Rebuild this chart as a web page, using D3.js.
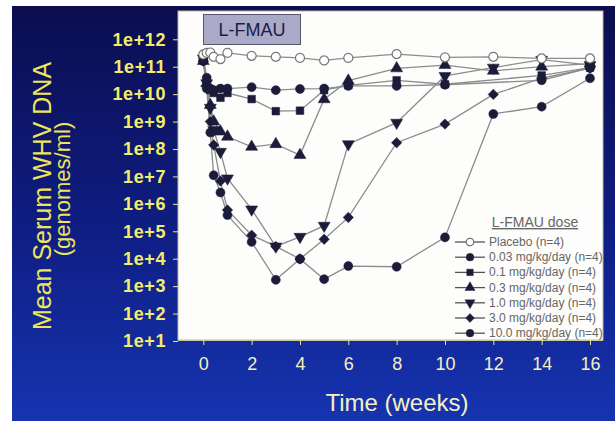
<!DOCTYPE html>
<html lang="en">
<head>
<meta charset="UTF-8">
<title>L-FMAU</title>
<script src="https://cdn.jsdelivr.net/npm/d3@7"></script>
<style>
    body { margin: 0; background: #fff; }
    svg { display: block; font-family: "Liberation Sans", Arial, sans-serif; }
    .ytick text { fill: #f2ec6a; font-size: 18px; font-weight: bold; letter-spacing: 0.6px; }
    .xtick text { fill: #f4f0c0; font-size: 18px; }
    .ytick line, .xtick line { stroke: #e8e4a0; }
    .legtext { fill: #666; font-size: 12px; }
</style>
</head>
<body>
<div id="chart"></div>
<script>
// weeks at which samples were taken
var weeksAll = [0, 0.14, 0.29, 0.43, 0.71, 1, 2, 3, 4, 5, 6, 8, 10, 12, 14, 16];
var weeksNo12 = [0, 0.14, 0.29, 0.43, 0.71, 1, 2, 3, 4, 5, 6, 8, 10, 14, 16];

// mean serum WHV DNA (genomes/ml)
var placebo = [2.8e11, 3.2e11, 3.3e11, 2.3e11, 1.9e11, 3.2e11, 2.5e11, 2.3e11, 2.1e11, 1.7e11, 2.1e11, 2.9e11, 2.2e11, 2.3e11, 2.0e11, 2.0e11];
var dose003 = [2.0e11, 4.0e10, 1.6e10, 1.4e10, 1.6e10, 1.6e10, 1.8e10, 1.4e10, 1.55e10, 1.6e10, 2.0e10, 2.0e10, 2.2e10, 3.2e10, 9.0e10];
var dose01 = [1.8e11, 3.2e10, 1.4e10, 1.1e10, 7.4e9, 1.1e10, 6.6e9, 2.4e9, 2.5e9, 1.4e10, 2.1e10, 3.2e10, 2.3e10, 4.8e10, 9.3e10];
var dose03 = [1.6e11, 2.5e10, 4.0e9, 1.0e9, 4.3e8, 2.8e8, 1.2e8, 1.5e8, 6.0e7, 6.5e9, 3.1e10, 8.7e10, 1.15e11, 7.1e10, 1.0e11, 1.3e11];
var dose10 = [2.0e11, 2.5e10, 3.2e9, 5.0e8, 7.9e7, 8.5e6, 6.3e5, 2.8e4, 6.3e4, 1.6e5, 1.5e8, 9.1e8, 4.6e10, 9.3e10, 1.8e11, 1.15e11];
var dose30 = [1.6e11, 2.0e10, 1.0e9, 1.4e8, 6.8e6, 6.0e5, 7.2e4, 2.8e4, 9.8e3, 5.1e4, 3.2e5, 1.7e8, 8.1e8, 9.8e9, 3.8e10, 8.9e10];
var dose100 = [1.6e11, 1.6e10, 4.0e8, 1.1e7, 2.6e6, 3.9e5, 4.1e4, 1.7e3, 9.8e3, 1.8e3, 5.4e3, 5.1e3, 6.0e4, 1.9e9, 3.5e9, 3.8e10];

var seriesNames = ["Placebo (n=4)", "0.03 mg/kg/day (n=4)", "0.1 mg/kg/day (n=4)", "0.3 mg/kg/day (n=4)",
                   "1.0 mg/kg/day (n=4)", "3.0 mg/kg/day (n=4)", "10.0 mg/kg/day (n=4)"];
var xTicks = [0, 2, 4, 6, 8, 10, 12, 14, 16];
var yTicks = [1e1, 1e2, 1e3, 1e4, 1e5, 1e6, 1e7, 1e8, 1e9, 1e10, 1e11, 1e12];

var series = [
    {name: seriesNames[0], weeks: weeksAll, values: placebo, sym: "circle", open: true},
    {name: seriesNames[1], weeks: weeksNo12, values: dose003, sym: "circle"},
    {name: seriesNames[2], weeks: weeksNo12, values: dose01, sym: "square"},
    {name: seriesNames[3], weeks: weeksAll, values: dose03, sym: "up"},
    {name: seriesNames[4], weeks: weeksAll, values: dose10, sym: "down"},
    {name: seriesNames[5], weeks: weeksAll, values: dose30, sym: "diamond"},
    {name: seriesNames[6], weeks: weeksAll, values: dose100, sym: "circle"}
];

var W = 615, H = 421;
var panel = {left: 178, right: 603, top: 11, bottom: 340};

var svg = d3.select("#chart").append("svg")
    .attr("width", W)
    .attr("height", H);

var grad = svg.append("defs").append("linearGradient")
    .attr("id", "bg")
    .attr("x1", 0).attr("y1", 0).attr("x2", 0).attr("y2", 1);
grad.append("stop").attr("offset", "0%").attr("stop-color", "#0b0d4e");
grad.append("stop").attr("offset", "55%").attr("stop-color", "#0f1e84");
grad.append("stop").attr("offset", "100%").attr("stop-color", "#1634b0");

svg.append("rect").attr("x", 12).attr("y", 6).attr("width", W - 12).attr("height", H - 6)
    .attr("fill", "url(#bg)");

// white plotting panel
svg.append("rect")
    .attr("x", panel.left).attr("y", panel.top)
    .attr("width", panel.right - panel.left).attr("height", panel.bottom - panel.top)
    .attr("fill", "#fdfdfb")
    .attr("stroke", "#b8b8a8").attr("stroke-width", 1);

var x = d3.scaleLinear().domain([0, 16]).range([203.3, 590]);
var y = d3.scaleLog().domain([1e1, 1e12]).range([341, 39.3]);

// axes
var yAxis = svg.append("g")
    .attr("class", "ytick")
    .attr("transform", "translate(" + panel.left + ",0)")
    .call(d3.axisLeft(y).tickValues(yTicks).tickSize(5).tickPadding(7)
        .tickFormat(function(d) { return "1e+" + Math.round(Math.log10(d)); }));
yAxis.select(".domain").remove();

var xAxis = svg.append("g")
    .attr("class", "xtick")
    .attr("transform", "translate(0," + panel.bottom + ")")
    .call(d3.axisBottom(x).tickValues(xTicks).tickSize(5).tickPadding(12));
xAxis.select(".domain").remove();

svg.append("line")
    .attr("x1", panel.left).attr("x2", panel.right)
    .attr("y1", panel.bottom).attr("y2", panel.bottom)
    .attr("stroke", "#e8e4a0").attr("stroke-width", 1.5);

// axis titles
svg.append("text")
    .attr("transform", "translate(51,196) rotate(-90)")
    .attr("text-anchor", "middle")
    .attr("fill", "#f0e45a")
    .style("font-size", "25px")
    .text("Mean Serum WHV DNA");
svg.append("text")
    .attr("transform", "translate(70,189) rotate(-90)")
    .attr("text-anchor", "middle")
    .attr("fill", "#f0e45a")
    .style("font-size", "22px")
    .text("(genomes/ml)");
svg.append("text")
    .attr("x", 397).attr("y", 411)
    .attr("text-anchor", "middle")
    .attr("fill", "#f4f0c4")
    .style("font-size", "24px")
    .text("Time (weeks)");

// title box
svg.append("rect")
    .attr("x", 203.5).attr("y", 14.5).attr("width", 97).attr("height", 30)
    .attr("fill", "#a9a9c8").attr("stroke", "#55556a").attr("stroke-width", 1);
svg.append("text")
    .attr("x", 252).attr("y", 36)
    .attr("text-anchor", "middle")
    .attr("fill", "#1c1c46")
    .style("font-size", "18px")
    .text("L-FMAU");

function symbolPath(s) {
    if (s === "square") return d3.symbol().type(d3.symbolSquare).size(58)();
    if (s === "up" || s === "down") return d3.symbol().type(d3.symbolTriangle).size(62)();
    if (s === "diamond") return d3.symbol().type(d3.symbolSquare).size(54)();
    return d3.symbol().type(d3.symbolCircle).size(64)();
}
function symbolRotate(s) {
    if (s === "down") return " rotate(180)";
    if (s === "diamond") return " rotate(45)";
    return "";
}

var line = d3.line()
    .x(function(d) { return x(d[0]); })
    .y(function(d) { return y(d[1]); });

var lineColor = "#8c8c8c";
var markColor = "#1b1b3a";

// lines first, then the markers over them
var order = [6, 5, 4, 3, 2, 1, 0];
order.forEach(function(i) {
    var s = series[i];
    var pts = s.weeks.map(function(w, j) { return [w, s.values[j]]; });
    svg.append("path")
        .datum(pts)
        .attr("d", line)
        .attr("fill", "none")
        .attr("stroke", lineColor)
        .attr("stroke-width", 1.3);
});
order.forEach(function(i) {
    var s = series[i];
    var pts = s.weeks.map(function(w, j) { return [w, s.values[j]]; });
    svg.append("g").selectAll("path")
        .data(pts)
        .enter()
        .append("path")
        .attr("d", symbolPath(s.sym))
        .attr("transform", function(d) {
            return "translate(" + x(d[0]) + "," + y(d[1]) + ")" + symbolRotate(s.sym);
        })
        .attr("fill", s.open ? "#fff" : markColor)
        .attr("stroke", s.open ? "#777" : markColor)
        .attr("stroke-width", s.open ? 1.2 : 0.5);
});

// legend
var legend = svg.append("g");
legend.append("text")
    .attr("x", 535).attr("y", 227)
    .attr("text-anchor", "middle")
    .attr("fill", "#666")
    .style("font-size", "14px")
    .style("text-decoration", "underline")
    .text("L-FMAU dose");

var rows = legend.selectAll(".row")
    .data(series)
    .enter()
    .append("g")
    .attr("transform", function(d, i) { return "translate(0," + (242 + i * 15.2) + ")"; });
rows.append("line")
    .attr("x1", 455).attr("x2", 485)
    .attr("stroke", "#555").attr("stroke-width", 1.3);
rows.append("path")
    .attr("d", function(d) { return symbolPath(d.sym); })
    .attr("transform", function(d) { return "translate(470,0) scale(0.85)" + symbolRotate(d.sym); })
    .attr("fill", function(d) { return d.open ? "#fff" : markColor; })
    .attr("stroke", function(d) { return d.open ? "#666" : markColor; })
    .attr("stroke-width", function(d) { return d.open ? 1.2 : 0.5; });
rows.append("text")
    .attr("class", "legtext")
    .attr("x", 489).attr("y", 4)
    .text(function(d) { return d.name; });
</script>
</body>
</html>
